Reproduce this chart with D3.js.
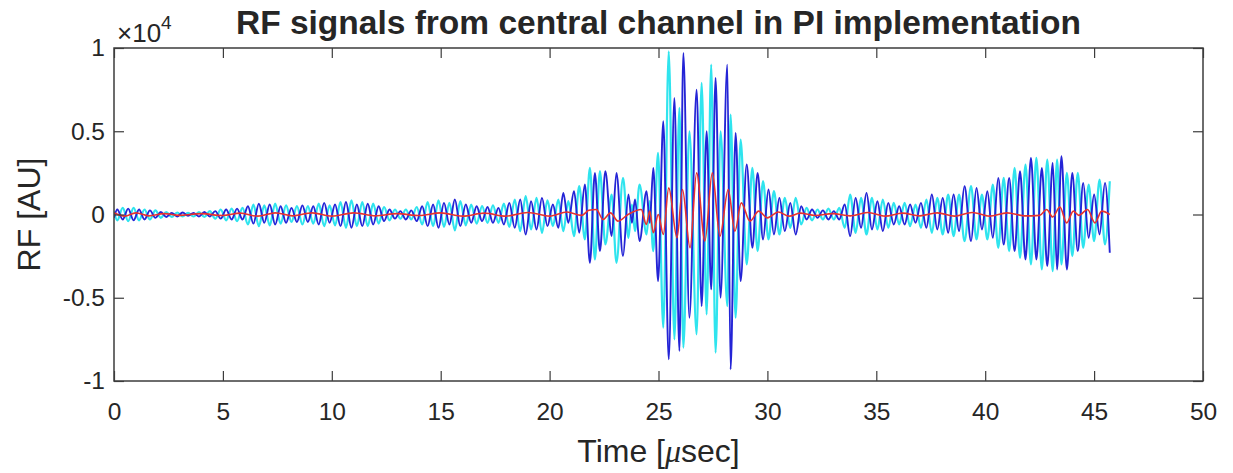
<!DOCTYPE html>
<html>
<head>
<meta charset="utf-8">
<script src="https://cdn.jsdelivr.net/npm/d3@7"></script>
<style>
body { margin: 0; background: #fff; }
svg text { font-family: Arial, "Liberation Sans", Helvetica, sans-serif; fill: #262626; }
</style>
</head>
<body>
<div id="chart"></div>
<script>

// axis ticks
var xTicks = [0, 5, 10, 15, 20, 25, 30, 35, 40, 45, 50];
var yTicks = [-1, -0.5, 0, 0.5, 1];
var yTickLabels = ["-1", "-0.5", "0", "0.5", "1"];

// time [usec] of each read extremum of the two pulse-inversion traces
var extremaTimes = [
    0, 0.15, 0.4, 0.65, 0.9, 1.15, 1.4, 1.65, 1.9, 2.15, 2.4, 2.65, 2.9, 3.15, 3.4, 3.65, 3.9, 4.15, 4.4, 4.65,
    4.9, 5.15, 5.4, 5.65, 5.9, 6.15, 6.4, 6.65, 6.9, 7.15, 7.4, 7.65, 7.9, 8.15, 8.4, 8.65, 8.9, 9.15, 9.4, 9.65, 9.9,
    10.15, 10.4, 10.65, 10.9, 11.15, 11.4, 11.65, 11.9, 12.15, 12.4, 12.65, 12.9, 13.15, 13.4, 13.65, 13.9,
    14.15, 14.4, 14.65, 14.9, 15.15, 15.4, 15.65, 15.9, 16.15, 16.4, 16.65, 16.9, 17.15, 17.4, 17.65, 17.9,
    18.15, 18.4, 18.65, 18.9, 19.15, 19.4, 19.65, 19.9,
    20.15, 20.4, 20.63, 20.86, 21.12, 21.36, 21.62, 21.85, 22.08, 22.31, 22.56, 22.85, 23.07, 23.37, 23.62,
    23.78, 23.92, 24.13, 24.45, 24.6, 24.76, 24.98,
    25.22, 25.47, 25.73, 25.96, 26.14, 26.42, 26.75, 26.98, 27.21, 27.42, 27.62, 27.85, 28.16, 28.31, 28.54,
    28.77, 29.05, 29.31, 29.55, 29.8, 30.05, 30.3, 30.55, 30.8,
    31.05, 31.3, 31.55, 31.8, 32.05, 32.3, 32.55, 32.8, 33.05, 33.3, 33.55, 33.8, 34.05, 34.3, 34.55, 34.8,
    35.05, 35.3, 35.55, 35.8, 36.05, 36.3, 36.55, 36.8, 37.05, 37.3, 37.55, 37.8, 38.05, 38.3, 38.55, 38.8,
    39.05, 39.35, 39.6, 39.85,
    40.1, 40.35, 40.6, 40.85, 41.1, 41.35, 41.6, 41.85, 42.1, 42.35, 42.6, 42.85, 43.1, 43.3, 43.5, 43.75,
    44.0, 44.25, 44.5, 44.75, 45.0, 45.25, 45.5, 45.72
];

// blue trace (x1e4)
var blueValues = [
    -0.02, 0.03, -0.03, 0.035, -0.035, 0.03, -0.03, 0.025, -0.02, 0.015, -0.015, 0.01, -0.012, 0.012, -0.008,
    0.01, -0.012, 0.015, -0.012, 0.02, -0.025, 0.03, -0.03, 0.035, -0.03, 0.05, -0.055, 0.065, -0.05, 0.06,
    -0.06, 0.05, -0.05, 0.04, -0.045, 0.055, -0.045, 0.05, -0.06, 0.07, -0.05,
    0.06, -0.07, 0.075, -0.08, 0.06, -0.07, 0.065, -0.06, 0.05, -0.04, 0.03, -0.025, 0.02, -0.03, 0.025, -0.04,
    0.05, -0.07, 0.06, -0.08, 0.07, -0.06, 0.09, -0.07, 0.06, -0.05, 0.05, -0.04, 0.045, -0.05, 0.04, -0.06,
    0.07, -0.08, 0.09, -0.12, 0.08, -0.09, 0.1, -0.07,
    0.06, -0.08, 0.13, -0.05, 0.14, -0.11, 0.18, -0.29, 0.25, -0.22, 0.26, -0.13, 0.25, -0.25, 0.12,
    -0.05, 0.09, -0.16, 0.14, -0.05, 0.28, -0.4,
    0.56, -0.87, 0.7, -0.82, 0.97, -0.62, 0.75, -0.55, 0.5, -0.45, 0.82, -0.5, 0.9, -0.93, 0.49,
    -0.4, 0.3, -0.2, 0.25, -0.15, 0.15, -0.12, 0.1, -0.1,
    0.07, -0.12, 0.05, -0.03, 0.03, -0.02, 0.025, -0.03, 0.02, -0.03, 0.06, -0.13, 0.1, -0.08, 0.13, -0.09,
    0.08, -0.1, 0.07, -0.06, 0.05, -0.06, 0.06, -0.05, 0.07, -0.08, 0.12, -0.09, 0.1, -0.11, 0.12, -0.1,
    0.17, -0.16, 0.16, -0.09,
    0.14, -0.14, 0.22, -0.18, 0.22, -0.22, 0.26, -0.27, 0.34, -0.27, 0.28, -0.31, 0.31, -0.33, 0.35, -0.33,
    0.25, -0.22, 0.19, -0.14, 0.12, -0.12, 0.19, -0.23
];

// cyan trace (x1e4)
var cyanValues = [
    0.02, -0.035, 0.04, -0.04, 0.04, -0.035, 0.03, -0.03, 0.025, -0.02, 0.015, -0.015, 0.012, -0.012, 0.01,
    -0.012, 0.015, -0.015, 0.02, -0.025, 0.03, -0.035, 0.035, -0.04, 0.04, -0.06, 0.06, -0.07, 0.055, -0.065,
    0.065, -0.055, 0.055, -0.045, 0.05, -0.06, 0.05, -0.055, 0.065, -0.07, 0.055,
    -0.065, 0.075, -0.08, 0.085, -0.07, 0.075, -0.07, 0.065, -0.055, 0.045, -0.035, 0.03, -0.025, 0.03, -0.03, 0.045,
    -0.06, 0.075, -0.07, 0.085, -0.075, 0.07, -0.095, 0.08, -0.065, 0.06, -0.055, 0.05, -0.05, 0.055, -0.05, 0.065,
    -0.075, 0.09, -0.1, 0.11, -0.09, 0.1, -0.11, 0.085,
    -0.07, 0.09, -0.1, 0.08, -0.13, 0.17, -0.15, 0.28, -0.27, 0.26, -0.18, 0.12, -0.29, 0.22, -0.14,
    0.06, -0.1, 0.18, -0.12, 0.08, -0.22, 0.37,
    -0.68, 0.98, -0.75, 0.64, -0.8, 0.5, -0.72, 0.79, -0.6, 0.9, -0.83, 0.5, -0.55, 0.6, -0.62,
    0.45, -0.3, 0.28, -0.22, 0.2, -0.15, 0.14, -0.12, 0.1,
    -0.08, 0.1, -0.06, 0.04, -0.035, 0.03, -0.03, 0.035, -0.03, 0.04, -0.08, 0.12, -0.11, 0.1, -0.12, 0.1,
    -0.09, 0.09, -0.08, 0.07, -0.06, 0.07, -0.07, 0.06, -0.08, 0.09, -0.11, 0.1, -0.12, 0.12, -0.13, 0.12,
    -0.16, 0.17, -0.15, 0.12,
    -0.15, 0.18, -0.2, 0.22, -0.22, 0.28, -0.26, 0.3, -0.3, 0.34, -0.33, 0.33, -0.34, 0.33, -0.3, 0.25,
    -0.25, 0.25, -0.2, 0.18, -0.16, 0.21, -0.18, 0.2
];

// red trace (sum), [time, value x1e4]
var redSignal = [
    [0, 0.01], [0.5, -0.01], [1.0, 0.01], [1.6, -0.008], [2.3, 0.005], [3.0, -0.005], [4.0, 0.005], [5.0, -0.006],
    [5.8, 0.008], [6.6, -0.01], [7.4, 0.01], [8.2, -0.008], [9.1, 0.01], [10.0, -0.01], [11.0, 0.01], [12.0, -0.008],
    [13.0, 0.005], [14.0, -0.006], [15.0, 0.01], [16.0, -0.01], [17.0, 0.008], [18.0, -0.01], [19.0, 0.012],
    [20.0, -0.01], [20.8, 0.015], [21.47, -0.005], [21.8, 0.025], [22.15, 0.03], [22.45, -0.03], [22.8, 0.01],
    [23.14, -0.04], [23.6, 0.0], [24.21, 0.03], [24.44, -0.06], [24.6, 0.02], [24.76, -0.11], [24.99, 0.0],
    [25.22, -0.12], [25.47, 0.16], [25.85, -0.14], [26.1, 0.15], [26.45, -0.2], [26.75, 0.25], [27.13, -0.16],
    [27.47, 0.25], [27.82, -0.13], [28.2, 0.15], [28.51, -0.1], [28.8, 0.07], [29.2, -0.04], [29.6, 0.02],
    [30.0, -0.02], [30.5, 0.015], [31.0, -0.01], [31.5, 0.008], [32.2, -0.006], [33.0, 0.005], [33.8, -0.008],
    [34.6, 0.012], [35.4, -0.01], [36.2, 0.008], [37.0, -0.008], [37.8, 0.01], [38.6, -0.01], [39.4, 0.012],
    [40.2, -0.01], [41.0, 0.01], [41.8, -0.008], [42.5, -0.005], [42.82, 0.03], [43.1, -0.015], [43.43, 0.045],
    [43.74, -0.05], [44.05, 0.02], [44.3, -0.005], [44.7, 0.03], [45.04, -0.05], [45.35, 0.02], [45.72, 0.0]
];

RFChart = function(_parentElement){
    this.parentElement = _parentElement;
    this.initVis();
};

RFChart.prototype.initVis = function(){
    var vis = this;
    vis.margin = { top: 48, right: 30, bottom: 92, left: 114 };
    vis.totalWidth = 1233;
    vis.totalHeight = 473;
    vis.width = vis.totalWidth - vis.margin.left - vis.margin.right;
    vis.height = vis.totalHeight - vis.margin.top - vis.margin.bottom;

    vis.svg = d3.select("#" + vis.parentElement).append("svg")
        .attr("width", vis.totalWidth)
        .attr("height", vis.totalHeight)
        .style("background", "#fff")
      .append("g")
        .attr("transform", "translate(" + vis.margin.left + "," + vis.margin.top + ")");

    vis.x = d3.scaleLinear().domain([0, 50]).range([0, vis.width]);
    vis.y = d3.scaleLinear().domain([-1, 1]).range([vis.height, 0]);

    vis.line = d3.line()
        .x(function(d) { return vis.x(d[0]); })
        .y(function(d) { return vis.y(d[1]); })
        .curve(d3.curveMonotoneX);

    vis.updateVis();
};

RFChart.prototype.updateVis = function(){
    var vis = this;
    var axisColor = "#3c3c3c";

    vis.svg.append("clipPath").attr("id", "plot-clip")
        .append("rect").attr("width", vis.width).attr("height", vis.height);

    var plot = vis.svg.append("g").attr("clip-path", "url(#plot-clip)");

    var series = [
        { values: extremaTimes.map(function(t, i) { return [t, cyanValues[i]]; }), color: "#2fe4ee", width: 2.2 },
        { values: extremaTimes.map(function(t, i) { return [t, blueValues[i]]; }), color: "#2424d6", width: 1.9 },
        { values: redSignal, color: "#e8322e", width: 1.6 }
    ];

    plot.selectAll(".trace").data(series).enter().append("path")
        .attr("class", "trace")
        .attr("d", function(d) { return vis.line(d.values); })
        .attr("fill", "none")
        .attr("stroke", function(d) { return d.color; })
        .attr("stroke-width", function(d) { return d.width; })
        .attr("stroke-linejoin", "round");

    // axes with inward ticks
    var xAxis = d3.axisBottom(vis.x).tickValues(xTicks).tickSizeInner(-10).tickSizeOuter(0).tickPadding(22);
    var xAxisTop = d3.axisTop(vis.x).tickValues(xTicks).tickSizeInner(-10).tickSizeOuter(0).tickFormat("");
    var yAxis = d3.axisLeft(vis.y).tickValues(yTicks).tickSizeInner(-10).tickSizeOuter(0).tickPadding(9)
        .tickFormat(function(d, i) { return yTickLabels[i]; });
    var yAxisRight = d3.axisRight(vis.y).tickValues(yTicks).tickSizeInner(-10).tickSizeOuter(0).tickFormat("");

    var axes = [
        vis.svg.append("g").attr("transform", "translate(0," + vis.height + ")").call(xAxis),
        vis.svg.append("g").call(xAxisTop),
        vis.svg.append("g").call(yAxis),
        vis.svg.append("g").attr("transform", "translate(" + vis.width + ",0)").call(yAxisRight)
    ];
    axes.forEach(function(g) {
        g.attr("font-family", null).attr("font-size", null);
        g.select(".domain").remove();
        g.selectAll(".tick line").attr("stroke", axisColor).attr("stroke-width", 1.2);
        g.selectAll(".tick text").style("font-size", "24.5px").attr("fill", "#262626");
    });

    vis.svg.append("rect")
        .attr("width", vis.width).attr("height", vis.height)
        .attr("fill", "none").attr("stroke", axisColor).attr("stroke-width", 1.5);

    // exponent
    var expo = vis.svg.append("text").attr("x", 3).attr("y", -6).style("font-size", "26px");
    expo.append("tspan").text("\u00d710");
    expo.append("tspan").attr("dy", -13).style("font-size", "19px").text("4");

    vis.svg.append("text")
        .attr("x", vis.width / 2).attr("y", -14)
        .attr("text-anchor", "middle")
        .style("font-size", "33.5px").style("font-weight", "bold")
        .attr("fill", "#000")
        .text("RF signals from central channel in PI implementation");

    var xLabel = vis.svg.append("text")
        .attr("x", vis.width / 2).attr("y", vis.height + 81)
        .attr("text-anchor", "middle")
        .style("font-size", "32px");
    xLabel.append("tspan").text("Time [");
    xLabel.append("tspan").style("font-family", "'Liberation Serif', 'DejaVu Serif', serif")
        .style("font-style", "italic").text("\u03bc");
    xLabel.append("tspan").text("sec]");

    vis.svg.append("text")
        .attr("transform", "translate(" + (-74) + "," + (vis.height / 2) + ") rotate(-90)")
        .attr("text-anchor", "middle")
        .style("font-size", "32px")
        .text("RF [AU]");
};

var chart = new RFChart("chart");
</script>
</body>
</html>
